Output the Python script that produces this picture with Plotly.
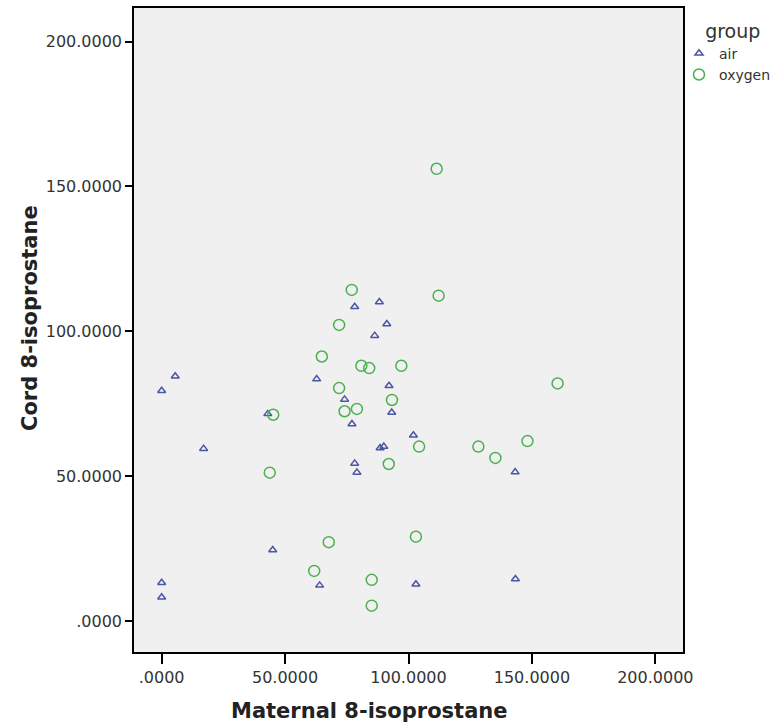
import plotly.graph_objects as go

# Data
air_x = [0, 5.5, 17, 0, 0, 43, 62.8, 45, 64, 103, 143.3, 102, 143.2, 78.2, 88.2,
         91.2, 86.3, 92.1, 74.1, 93.2, 77.1, 88.5, 90, 78.2, 79.1]
air_y = [79.5, 84.5, 59.5, 13.2, 8.2, 71.5, 83.5, 24.5, 12.3, 12.7, 14.5, 64.1, 51.4, 108.5, 110.1,
         102.5, 98.5, 81.2, 76.5, 72.0, 68.0, 59.7, 60.2, 54.4, 51.3]

oxy_x = [45.2, 43.8, 64.9, 61.8, 67.7, 103, 85.1, 85.1, 160.4, 104.3, 128.3, 135.2, 148.2,
         111.4, 112.2, 77, 71.9, 80.9, 84.1, 97.1, 71.9, 93.3, 74.1, 79.1, 92]
oxy_y = [71.2, 51.2, 91.3, 17.3, 27.2, 29.1, 14.2, 5.3, 82.0, 60.2, 60.2, 56.3, 62.1,
         156.1, 112.3, 114.3, 102.2, 88.1, 87.3, 88.1, 80.4, 76.3, 72.4, 73.2, 54.2]

tick_vals = [0, 50, 100, 150, 200]
tick_text = [".0000", "50.0000", "100.0000", "150.0000", "200.0000"]

FONT = "DejaVu Sans"

fig = go.Figure()
fig.add_trace(go.Scatter(
    x=air_x, y=air_y, mode="markers", name="air",
    marker=dict(symbol="triangle-up-open", size=7, color="#4d55a5",
                line=dict(width=1.5, color="#4d55a5")),
))
fig.add_trace(go.Scatter(
    x=oxy_x, y=oxy_y, mode="markers", name="oxygen",
    marker=dict(symbol="circle-open", size=11, color="#4cb050",
                line=dict(width=1.5, color="#4cb050")),
))

axis_common = dict(
    showgrid=False, zeroline=False, showline=True, linecolor="black", linewidth=1.5,
    mirror=True, ticks="outside", tickcolor="black", tickwidth=1.5,
    tickfont=dict(family=FONT, size=16, color="#333333"),
    tickvals=tick_vals, ticktext=tick_text,
)

fig.update_xaxes(range=[-11.2, 211.2], ticklen=10, automargin=False, **axis_common)
fig.update_yaxes(range=[-10.7, 211.6], ticklen=7, automargin=False, **axis_common)

PW = 683 - 134
PH = 652 - 8

fig.add_annotation(text="<b>Maternal 8-isoprostane</b>", xref="paper", yref="paper",
                   x=(369 - 134) / PW, y=-(711 - 652) / PH, showarrow=False,
                   xanchor="center", yanchor="middle",
                   font=dict(family=FONT, size=21, color="#222222"))
fig.add_annotation(text="<b>Cord 8-isoprostane</b>", xref="paper", yref="paper",
                   x=-(134 - 30) / PW, y=(652 - 318) / PH, showarrow=False,
                   xanchor="center", yanchor="middle", textangle=-90,
                   font=dict(family=FONT, size=21, color="#222222"))

fig.update_layout(
    width=777, height=723,
    margin=dict(l=134, r=94, t=8, b=71, autoexpand=False),
    paper_bgcolor="white", plot_bgcolor="#f0f0f0",
    legend=dict(
        title=dict(text="&nbsp;&nbsp;&nbsp;&nbsp;group", side="top",
                   font=dict(family=FONT, size=19, color="#333333")),
        font=dict(family=FONT, size=14, color="#333333"),
        x=1 - 4 / PW, xanchor="left", y=1 - 5 / PH, yanchor="top",
        itemwidth=30, tracegroupgap=0, bgcolor="rgba(0,0,0,0)",
    ),
    showlegend=True,
)

fig.write_html("out.html")
